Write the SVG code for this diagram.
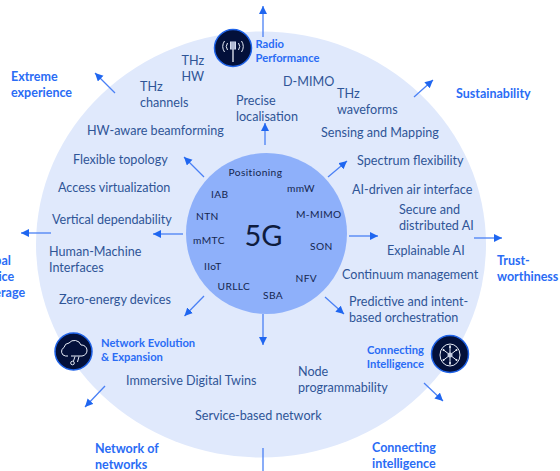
<svg xmlns="http://www.w3.org/2000/svg" width="560" height="471" viewBox="0 0 560 471">
<style>
text{font-family:"Lato","Open Sans","Liberation Sans",sans-serif}
.t{font-size:12.6px;fill:#2f5597}
.o{font-size:12.5px;font-weight:700;fill:#2a6cf5}
.h{font-size:11.2px;font-weight:700;fill:#2a6cf5}
.i{font-size:10.2px;fill:#14264f;letter-spacing:.4px}
.c{stroke:#4a80f5;stroke-width:1.3;fill:none;marker-end:url(#a)}
.n{stroke:#4a80f5;stroke-width:1.3;fill:none}
.ic{fill:#03103a;stroke:#1f63e8;stroke-width:1.5}
.g{fill:none;stroke:#e8edf8;stroke-width:1}
</style>
<defs><marker id="a" markerUnits="userSpaceOnUse" markerWidth="9" markerHeight="9" refX="8" refY="4" orient="auto"><path d="M0 0L8 4L0 8Z" fill="#1f66f0"/></marker></defs>
<rect width="560" height="471" fill="#fff"/>
<g id="outer"><ellipse cx="261" cy="244.5" rx="225" ry="213" fill="#e0e9fc"/></g>
<g id="core"><circle cx="266.5" cy="233.5" r="80.5" fill="#8eb0fa"/>
<text x="263.500" y="245.500" text-anchor="middle" style="font-size:29px" fill="#0e1c3f">5G</text>
<text class="i" x="228.500" y="176">Positioning</text><text class="i" x="287" y="192">mmW</text><text class="i" x="211" y="198">IAB</text><text class="i" x="296" y="218">M-MIMO</text><text class="i" x="196" y="220">NTN</text><text class="i" x="193" y="244">mMTC</text><text class="i" x="310" y="250">SON</text><text class="i" x="204" y="270">IIoT</text><text class="i" x="295.500" y="282">NFV</text><text class="i" x="217.500" y="290">URLLC</text><text class="i" x="263" y="299">SBA</text></g>
<g id="connectors">
<path class="c" d="M263 37V6"/>
<path class="c" d="M265 145V123"/>
<path class="c" d="M204 177L184 157"/>
<path class="c" d="M328 177L347 161"/>
<path class="c" d="M349 236H378"/>
<path class="c" d="M325 297L344 314"/>
<path class="c" d="M263 314V345"/>
<path class="c" d="M204 296L184.500 316"/>
<path class="c" d="M183 234H153"/>
<path class="c" d="M115 93L95 73"/>
<path class="c" d="M414 97L433 80"/>
<path class="c" d="M474 238H502"/>
<path class="c" d="M424 383L443 401"/>
<path class="c" d="M105 386L85 407"/>
<path class="c" d="M51 233H21"/>
<path class="n" d="M263 448V471"/>
</g>
<g id="inner-labels">
<text class="t" x="181.500" y="65">THz</text><text class="t" x="181.500" y="81">HW</text>
<text class="t" x="140" y="91">THz</text><text class="t" x="140" y="107">channels</text>
<text class="t" x="283" y="86">D-MIMO</text><text class="t" x="337" y="98">THz</text><text class="t" x="337" y="114">waveforms</text>
<text class="t" x="236" y="105">Precise</text><text class="t" x="236" y="121">localisation</text>
<text class="t" x="87" y="135">HW-aware beamforming</text><text class="t" x="321" y="137">Sensing and Mapping</text>
<text class="t" x="73" y="164">Flexible topology</text><text class="t" x="357" y="165">Spectrum flexibility</text>
<text class="t" x="58" y="192">Access virtualization</text><text class="t" x="352" y="194">AI-driven air interface</text>
<text class="t" x="399" y="214">Secure and</text><text class="t" x="399" y="230">distributed AI</text>
<text class="t" x="52" y="224">Vertical dependability</text>
<text class="t" x="49" y="256">Human-Machine</text><text class="t" x="49" y="272">Interfaces</text>
<text class="t" x="387" y="255">Explainable AI</text><text class="t" x="342" y="279">Continuum management</text>
<text class="t" x="59" y="304">Zero-energy devices</text>
<text class="t" x="349" y="306">Predictive and intent-</text><text class="t" x="349" y="322">based orchestration</text>
<text class="t" x="126" y="385">Immersive Digital Twins</text>
<text class="t" x="298" y="376">Node</text><text class="t" x="298" y="392">programmability</text>
<text class="t" x="195" y="420">Service-based network</text>
</g>
<g id="outer-labels">
<text class="o" x="11" y="81">Extreme</text><text class="o" x="11" y="97">experience</text>
<text class="o" x="456" y="98">Sustainability</text>
<text class="o" x="497" y="265">Trust-</text><text class="o" x="497" y="281">worthiness</text>
<text class="o" x="372" y="452">Connecting</text><text class="o" x="372" y="467.500">intelligence</text>
<text class="o" x="95" y="453">Network of</text><text class="o" x="95" y="469">networks</text>
<text class="o" x="-25" y="265">Global</text><text class="o" x="-25" y="281">service</text><text class="o" x="-25" y="297">coverage</text>
</g>
<g id="radio-performance"><circle class="ic" cx="233" cy="48" r="18.500"/>
<path class="g" d="M233 49V62" style="stroke-width:1.300"/><rect x="230" y="41.500" width="6" height="8" fill="#d5dcee"/><path d="M232 41.500V49.500M234 41.500V49.500" stroke="#5a6a90" stroke-width=".6"/>
<path class="g" d="M227.500 43a6 6 0 0 0 0 7M238.500 43a6 6 0 0 1 0 7M224.500 41a10 10 0 0 0 0 11M241.500 41a10 10 0 0 1 0 11"/>
<text class="h" x="255.500" y="48">Radio</text><text class="h" x="255.500" y="62">Performance</text></g>
<g id="network-evolution"><circle class="ic" cx="73.500" cy="351.500" r="18.500"/>
<path class="g" d="M68 356h-2.500a4.500 4.500 0 0 1-1.500-8.500a5.500 5.500 0 0 1 5-4.500a7 7 0 0 1 12 2a5.500 5.500 0 0 1 1 11h-11"/><circle class="g" cx="72.500" cy="363" r="1.800"/><path class="g" d="M75 356.500L73.500 361M79 356.500L77.500 362"/>
<text class="h" x="101" y="347">Network Evolution</text><text class="h" x="101" y="361">&amp; Expansion</text></g>
<g id="connecting-intelligence"><circle class="ic" cx="450" cy="354" r="18.500"/>
<ellipse class="g" cx="450" cy="355" rx="10" ry="11"/>
<path class="g" d="M450 345V365M443 349.500L457 360.500M457 349.500L443 360.500"/><circle cx="450" cy="355" r="2.500" fill="#c8d0e4"/><g fill="#e8edf8"><circle cx="450" cy="347" r="1"/><circle cx="450" cy="363" r="1"/><circle cx="443.500" cy="350" r="1"/><circle cx="456.500" cy="350" r="1"/><circle cx="443.500" cy="360" r="1"/><circle cx="456.500" cy="360" r="1"/></g>
<text class="h" x="424" y="353.500" text-anchor="end">Connecting</text><text class="h" x="424" y="368" text-anchor="end">Intelligence</text></g>
</svg>
